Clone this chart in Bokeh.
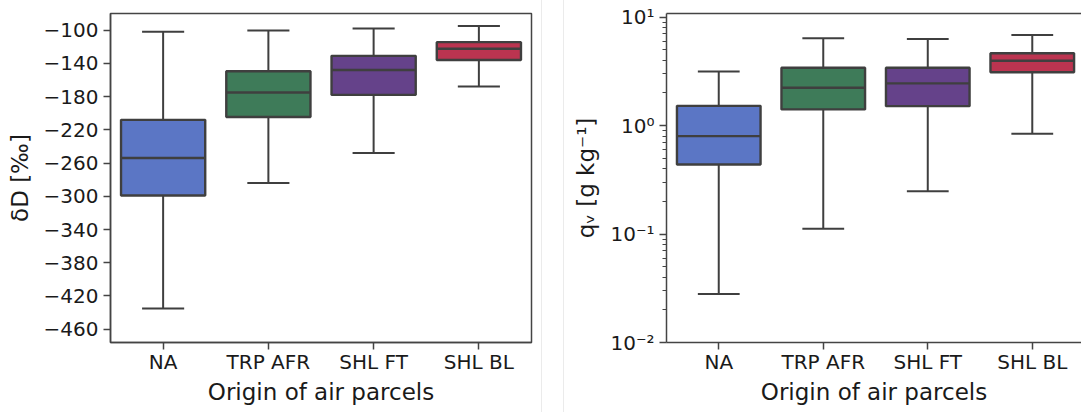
from bokeh.plotting import figure
from bokeh.models import Range1d, FixedTicker, LinearAxis, ColumnDataSource
from bokeh.layouts import row
from bokeh.transform import dodge
from bokeh.embed import file_html
from bokeh.resources import INLINE

# ---------------- data ----------------
categories = ["NA", "TRP AFR", "SHL FT", "SHL BL"]
box_colors = ["#5B76C5", "#3E7B59", "#65428A", "#BB3450"]

dD_lower = [-435, -284, -248, -168]
dD_q1 = [-299, -204.5, -178, -136]
dD_median = [-254, -175, -148, -122.5]
dD_q3 = [-208, -149.5, -131, -114.5]
dD_upper = [-102, -100.5, -98, -95]

qv_lower = [0.028, 0.112, 0.248, 0.84]
qv_q1 = [0.438, 1.41, 1.51, 3.1]
qv_median = [0.80, 2.23, 2.45, 3.96]
qv_q3 = [1.52, 3.41, 3.41, 4.64]
qv_upper = [3.16, 6.4, 6.3, 6.86]

dD_ticks = [-100, -140, -180, -220, -260, -300, -340, -380, -420, -460]
dD_tick_labels = ["−100", "−140", "−180", "−220", "−260", "−300", "−340", "−380", "−420", "−460"]
qv_ticks = [0.01, 0.1, 1, 10]
qv_tick_labels = ["10⁻²", "10⁻¹", "10⁰", "10¹"]
qv_minor = [m * d for d in (0.01, 0.1, 1) for m in range(2, 10)]

x_label = "Origin of air parcels"
dD_label = "δD [‰]"
qv_label = "qᵥ [g kg⁻¹]"

FONT = "DejaVu Sans"
EDGE = "#3f3f3f"
AXC = "#444444"
TXT = "#1a1a1a"
H = 412


def style_axis(ax):
    ax.axis_line_color = AXC
    ax.axis_line_width = 1.5
    ax.major_tick_line_color = AXC
    ax.major_tick_line_width = 1.5
    ax.major_tick_out = 7
    ax.major_tick_in = 0
    ax.minor_tick_line_color = None
    ax.major_label_text_font = FONT
    ax.major_label_text_font_size = "20px"
    ax.major_label_text_color = TXT
    ax.axis_label_text_font = FONT
    ax.axis_label_text_font_size = "23px"
    ax.axis_label_text_font_style = "normal"
    ax.axis_label_text_color = TXT


def panel(width, mbl, mbr, mbt, mbb, x_end, y_range, log, lower, q1, med, q3, upper,
          yticks, ylabels, ylabel, minor=None):
    p = figure(width=width, height=H, output_backend="svg", toolbar_location=None,
               x_range=Range1d(-0.5, x_end), y_range=y_range,
               y_axis_type="log" if log else "linear",
               min_border_left=mbl, min_border_right=mbr,
               min_border_top=mbt, min_border_bottom=mbb)
    p.grid.visible = False
    p.background_fill_color = "white"
    p.border_fill_color = "white"

    src = ColumnDataSource(dict(x=list(range(len(categories))), lower=lower, q1=q1,
                                med=med, q3=q3, upper=upper, color=box_colors))
    p.segment(x0="x", y0="lower", x1="x", y1="q1", source=src, line_color=EDGE, line_width=2)
    p.segment(x0="x", y0="q3", x1="x", y1="upper", source=src, line_color=EDGE, line_width=2)
    p.segment(x0=dodge("x", -0.2), y0="lower", x1=dodge("x", 0.2), y1="lower",
              source=src, line_color=EDGE, line_width=2)
    p.segment(x0=dodge("x", -0.2), y0="upper", x1=dodge("x", 0.2), y1="upper",
              source=src, line_color=EDGE, line_width=2)
    p.vbar(x="x", width=0.8, bottom="q1", top="q3", source=src,
           fill_color="color", line_color=EDGE, line_width=2.4)
    p.segment(x0=dodge("x", -0.4), y0="med", x1=dodge("x", 0.4), y1="med",
              source=src, line_color=EDGE, line_width=2.4)

    xa = p.xaxis[0]
    xa.ticker = FixedTicker(ticks=list(range(len(categories))))
    xa.major_label_overrides = {i: c for i, c in enumerate(categories)}
    xa.axis_label = x_label
    style_axis(xa)
    xa.major_label_standoff = 0
    xa.axis_label_standoff = 2

    ya = p.yaxis[0]
    ya.ticker = FixedTicker(ticks=yticks, minor_ticks=minor or [])
    ya.major_label_overrides = dict(zip(yticks, ylabels))
    ya.axis_label = ylabel
    style_axis(ya)
    ya.major_label_standoff = 5
    ya.axis_label_standoff = 8
    if minor:
        ya.minor_tick_line_color = AXC
        ya.minor_tick_line_width = 1.2
        ya.minor_tick_out = 4
        ya.minor_tick_in = 0
    return p


p1 = panel(564, 110, 33, 8, 70, 3.5, Range1d(-476, -80), False,
           dD_lower, dD_q1, dD_median, dD_q3, dD_upper, dD_ticks, dD_tick_labels, dD_label)
p1.outline_line_color = AXC
p1.outline_line_width = 1.5
# faint separator lines between the two panels (show through a transparent border)
p1.border_fill_color = None
p1.styles = {"background": "linear-gradient(90deg, #ffffff 0px, #ffffff 541px, #ebebeb 541px, "
                           "#ebebeb 542px, #ffffff 542px, #ffffff 563px, #ebebeb 563px, #ebebeb 564px)"}

p2 = panel(517, 102, 0, 13, 70, 3.471, Range1d(0.01, 10.8), True,
           qv_lower, qv_q1, qv_median, qv_q3, qv_upper, qv_ticks, qv_tick_labels, qv_label,
           minor=qv_minor)
p2.outline_line_color = None
top = LinearAxis(ticker=FixedTicker(ticks=[]), axis_line_color=AXC, axis_line_width=1.5,
                 major_tick_out=0, major_tick_in=0, minor_tick_out=0, minor_tick_in=0,
                 major_label_standoff=0)
p2.add_layout(top, "above")

layout = row(p1, p2)

open("out.html", "w").write(file_html(layout, INLINE))
